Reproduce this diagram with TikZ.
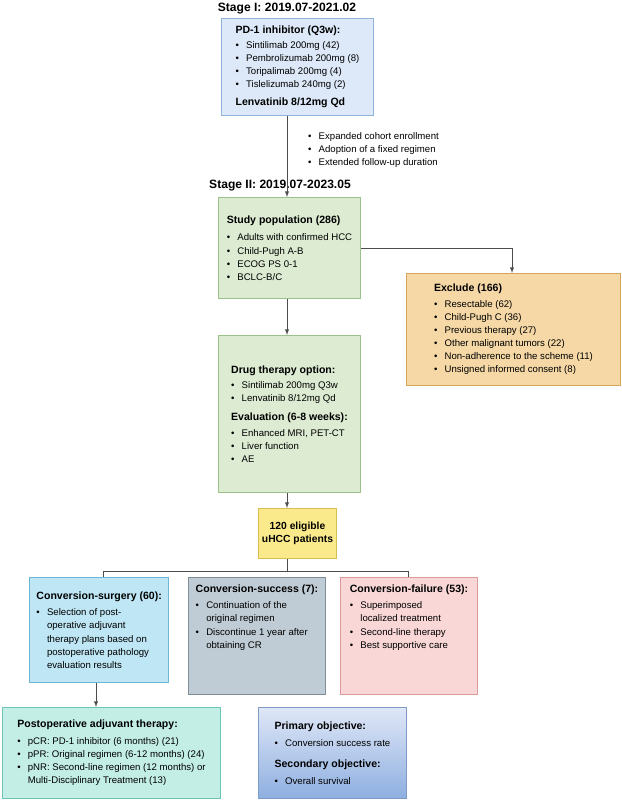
\documentclass[tikz,border=0pt]{standalone}
\usepackage{fontspec}
\setmainfont{Liberation Sans}
\usetikzlibrary{positioning}
\definecolor{pdfill}{HTML}{DDE9F8}\definecolor{pdline}{HTML}{8FB3DD}
\definecolor{grfill}{HTML}{DCEBD2}\definecolor{grline}{HTML}{9DC289}
\definecolor{orfill}{HTML}{F5D8A6}\definecolor{orline}{HTML}{D8A55C}
\definecolor{yefill}{HTML}{FBEA8C}\definecolor{yeline}{HTML}{D8BE4E}
\definecolor{cyfill}{HTML}{BEE6F4}\definecolor{cyline}{HTML}{6CB7D5}
\definecolor{gyfill}{HTML}{C0CCD5}\definecolor{gyline}{HTML}{7E8E99}
\definecolor{pkfill}{HTML}{F8D7D6}\definecolor{pkline}{HTML}{DA9B9A}
\definecolor{tqfill}{HTML}{C3EEE6}\definecolor{tqline}{HTML}{6DC3B4}
\definecolor{obfill}{HTML}{DFE7F7}\definecolor{obline}{HTML}{7F9CC8}
\definecolor{obbot}{HTML}{8EAFE0}
\newcommand{\itm}{\makebox[1.1em][l]{\textbullet}}
\newcommand{\cnt}{\hspace*{1.1em}}
\newcommand{\hd}[1]{{\bfseries\fontsize{9}{11}\selectfont #1}}
\tikzset{
  box/.style={draw=#1line,fill=#1fill,line width=0.8pt,anchor=north west,
    align=left,inner sep=6pt,font=\fontsize{8.2}{11.2}\selectfont},
  ttl/.style={font=\bfseries\fontsize{10.3}{12}\selectfont},
  conn/.style={draw=black!70,line width=0.7pt},
  arr/.style={conn,-latex}
}
\begin{document}
\begin{tikzpicture}[x=0.3mm,y=-0.3mm]
    \useasboundingbox (0,0) rectangle (622,800);
    \node[ttl] (stI) at (287,9) {Stage I: 2019.07-2021.02};
    \node[box=pd,minimum width=152*0.3mm,minimum height=82*0.3mm] (pd1) at (221,18)
      {\hd{PD-1 inhibitor (Q3w):}\\[2pt]
       \itm Sintilimab 200mg (42)\\ \itm Pembrolizumab 200mg (8)\\
       \itm Toripalimab 200mg (4)\\ \itm Tislelizumab 240mg (2)\\[4pt]
       \hd{Lenvatinib 8/12mg Qd}};
    \node[anchor=west,align=left,font=\fontsize{8.2}{11.2}\selectfont] (chg) at (304,150)
      {\itm Expanded cohort enrollment\\ \itm Adoption of a fixed regimen\\ \itm Extended follow-up duration};
    \node[ttl] (stII) at (280,186) {Stage II: 2019.07-2023.05};
    \node[box=gr,minimum width=142*0.3mm,minimum height=101*0.3mm] (pop) at (218,197)
      {\hd{Study population (286)}\\[4pt]
       \itm Adults with confirmed HCC\\ \itm Child-Pugh A-B\\ \itm ECOG PS 0-1\\ \itm BCLC-B/C};
    \node[box=or,minimum width=214*0.3mm,minimum height=112*0.3mm] (exc) at (406,273)
      {\hd{Exclude (166)}\\[2pt]
       \itm Resectable (62)\\ \itm Child-Pugh C (36)\\ \itm Previous therapy (27)\\
       \itm Other malignant tumors (22)\\ \itm Non-adherence to the scheme (11)\\
       \itm Unsigned informed consent (8)};
    \node[box=gr,minimum width=142*0.3mm,minimum height=157*0.3mm] (drug) at (218,335)
      {\hd{Drug therapy option:}\\[2pt]
       \itm Sintilimab 200mg Q3w\\ \itm Lenvatinib 8/12mg Qd\\[5pt]
       \hd{Evaluation (6-8 weeks):}\\[2pt]
       \itm Enhanced MRI, PET-CT\\ \itm Liver function\\ \itm AE};
    \node[box=ye,align=center,minimum width=57*0.3mm,minimum height=50*0.3mm,inner sep=3pt,
      font=\bfseries\fontsize{8.8}{11}\selectfont] (elig) at (258,508)
      {120 eligible\\uHCC patients};
    \node[box=cy,minimum width=137*0.3mm,minimum height=105*0.3mm] (surg) at (29,577)
      {\hd{Conversion-surgery (60):}\\[3pt]
       \itm Selection of post-\\ \cnt operative adjuvant\\ \cnt therapy plans based on\\
       \cnt postoperative pathology\\ \cnt evaluation results};
    \node[box=gy,minimum width=137*0.3mm,minimum height=105*0.3mm] (succ) at (188,577)
      {\hd{Conversion-success (7):}\\[3pt]
       \itm Continuation of the\\ \cnt original regimen\\ \itm Discontinue 1 year after\\
       \cnt obtaining CR\\[22pt]};
    \node[box=pk,minimum width=137*0.3mm,minimum height=105*0.3mm] (fail) at (340,577)
      {\hd{Conversion-failure (53):}\\[3pt]
       \itm Superimposed\\ \cnt localized treatment\\ \itm Second-line therapy\\
       \itm Best supportive care\\[22pt]};
    \node[box=tq,minimum width=218*0.3mm,minimum height=91*0.3mm] (post) at (2,707)
      {\hd{Postoperative adjuvant therapy:}\\[3pt]
       \itm pCR: PD-1 inhibitor (6 months) (21)\\ \itm pPR: Original regimen (6-12 months) (24)\\
       \itm pNR: Second-line regimen (12 months) or\\ \cnt Multi-Disciplinary Treatment (13)};
    \node[box=ob,top color=obfill,bottom color=obbot,
      minimum width=148*0.3mm,minimum height=91*0.3mm] (obj) at (258,707)
      {\hd{Primary objective:}\\[3pt]
       \itm Conversion success rate\\[7pt]
       \hd{Secondary objective:}\\[3pt]
       \itm Overall survival};
    % connectors
    \draw[arr] (pd1.south -| 287,0) -- (pop.north -| 287,0);
    \draw[arr] (pop.east |- 0,248) -- (512,248) -- (exc.north -| 512,0);
    \draw[arr] (pop.south -| 287,0) -- (drug.north -| 287,0);
    \draw[arr] (drug.south -| 287,0) -- (elig.north -| 287,0);
    \draw[conn] (elig.south -| 287,0) -- (287,571);
    \draw[conn] (surg.north -| 103,0) -- (103,571) -- (408,571) -- (fail.north -| 408,0);
    \draw[arr] (surg.south -| 96,0) -- (post.north -| 96,0);
\end{tikzpicture}
\end{document}
